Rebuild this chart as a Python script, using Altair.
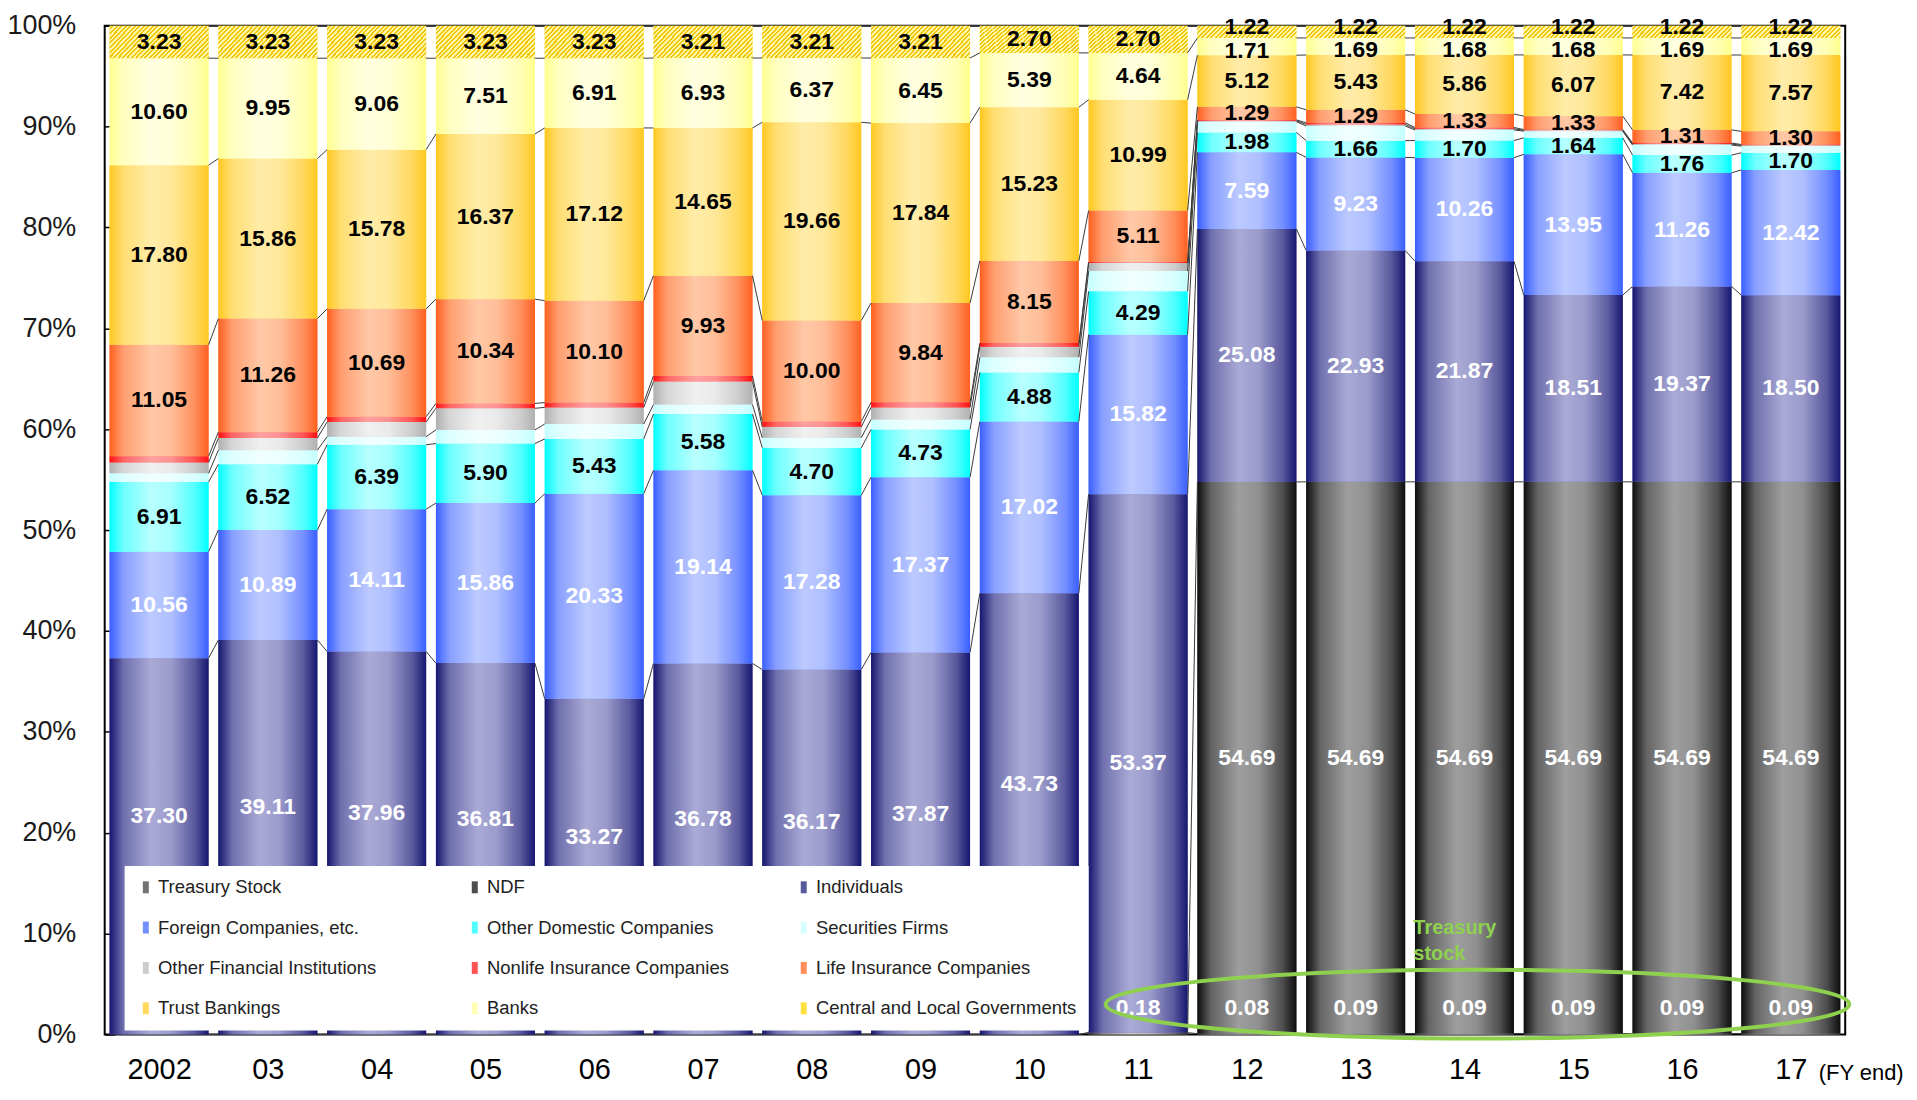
import altair as alt
import pandas as pd

# ---------------- data ----------------
years = ["2002", "03", "04", "05", "06", "07", "08", "09", "10", "11",
         "12", "13", "14", "15", "16", "17"]
categories = ["Treasury Stock", "NDF", "Individuals", "Foreign Companies, etc.",
              "Other Domestic Companies", "Securities Firms", "Other Financial Institutions",
              "Nonlife Insurance Companies", "Life Insurance Companies", "Trust Bankings",
              "Banks", "Central and Local Governments"]

treasury = [0, 0, 0, 0, 0, 0, 0, 0, 0, 0.18, 0.08, 0.09, 0.09, 0.09, 0.09, 0.09]
ndf = [0, 0, 0, 0, 0, 0, 0, 0, 0, 0, 54.69, 54.69, 54.69, 54.69, 54.69, 54.69]
individuals = [37.30, 39.11, 37.96, 36.81, 33.27, 36.78, 36.17, 37.87, 43.73, 53.37,
               25.08, 22.93, 21.87, 18.51, 19.37, 18.50]
foreign = [10.56, 10.89, 14.11, 15.86, 20.33, 19.14, 17.28, 17.37, 17.02, 15.82,
           7.59, 9.23, 10.26, 13.95, 11.26, 12.42]
other_domestic = [6.91, 6.52, 6.39, 5.90, 5.43, 5.58, 4.70, 4.73, 4.88, 4.29,
                  1.98, 1.66, 1.70, 1.64, 1.76, 1.70]
securities = [0.85, 1.40, 0.80, 1.36, 1.48, 0.94, 1.00, 1.00, 1.49, 2.01,
              1.06, 1.45, 1.05, 0.66, 0.99, 0.66]
other_financial = [1.08, 1.20, 1.46, 2.14, 1.65, 2.28, 1.08, 1.19, 1.06, 0.79,
                   0.09, 0.16, 0.12, 0.08, 0.10, 0.08]
nonlife = [0.62, 0.58, 0.52, 0.48, 0.48, 0.56, 0.53, 0.50, 0.35, 0.10,
           0.09, 0.16, 0.13, 0.08, 0.10, 0.08]
life = [11.05, 11.26, 10.69, 10.34, 10.10, 9.93, 10.00, 9.84, 8.15, 5.11,
        1.29, 1.29, 1.33, 1.33, 1.31, 1.30]
trust = [17.80, 15.86, 15.78, 16.37, 17.12, 14.65, 19.66, 17.84, 15.23, 10.99,
         5.12, 5.43, 5.86, 6.07, 7.42, 7.57]
banks = [10.60, 9.95, 9.06, 7.51, 6.91, 6.93, 6.37, 6.45, 5.39, 4.64,
         1.71, 1.69, 1.68, 1.68, 1.69, 1.69]
governments = [3.23, 3.23, 3.23, 3.23, 3.23, 3.21, 3.21, 3.21, 2.70, 2.70,
               1.22, 1.22, 1.22, 1.22, 1.22, 1.22]

y_ticks = [0, 10, 20, 30, 40, 50, 60, 70, 80, 90, 100]

series = [treasury, ndf, individuals, foreign, other_domestic, securities,
          other_financial, nonlife, life, trust, banks, governments]

rows = []
for ci, (cat, vals) in enumerate(zip(categories, series)):
    for yi, v in enumerate(vals):
        rows.append({"idx": yi, "cat": cat, "order": ci, "value": v})
df = pd.DataFrame(rows)

# annotation
annot_text = pd.DataFrame({"x": [11.53], "y": [10.6], "t": ["Treasury\nstock"]})
annot_ellipse = pd.DataFrame({"x": [12.12], "y": [3.0]})

# ---------------- styles ----------------
FONT = "Liberation Sans, Arial, sans-serif"
HALF = 0.455
W, H = 1746, 1012


def hex2rgb(h):
    h = h.lstrip("#")
    return [int(h[i:i + 2], 16) for i in (0, 2, 4)]


def mix(a, b, t):
    ra, rb = hex2rgb(a), hex2rgb(b)
    return "#" + "".join("%02x" % round(x + (y - x) * t) for x, y in zip(ra, rb))


def cyl(edge, center):
    pts = [(0, 0.0), (0.14, 0.6), (0.42, 1.0), (0.62, 0.9), (0.86, 0.45), (1, 0.0)]
    return alt.LinearGradient(
        gradient="linear", x1=0, y1=0, x2=1, y2=0,
        stops=[alt.GradientStop(offset=o, color=mix(edge, center, t)) for o, t in pts])


cyl_colors = {
    "Treasury Stock": ("#2b2b2b", "#cacaca"),
    "NDF": ("#0d0d0d", "#9e9e9e"),
    "Individuals": ("#161670", "#aaaad6"),
    "Foreign Companies, etc.": ("#3a5fff", "#bccaff"),
    "Other Domestic Companies": ("#00ffff", "#b8ffff"),
    "Securities Firms": ("#c4ffff", "#f0ffff"),
    "Other Financial Institutions": ("#b0b0b0", "#f0f0f0"),
    "Nonlife Insurance Companies": ("#ff1010", "#ffa0a0"),
    "Life Insurance Companies": ("#ff6020", "#ffc8a6"),
    "Trust Bankings": ("#ffc820", "#ffeca8"),
    "Banks": ("#ffff90", "#ffffe0"),
}
solid = [mix(*cyl_colors[c], 0.45) for c in categories[:-1]] + ["#ffe040"]


def hatch(ratio, periods, bg="#fff7a8", stripe="#f2c400"):
    k = (1 + ratio) / (1 + ratio * ratio)
    stops = []
    for j in range(periods):
        a = round(j / periods, 4)
        b = round((j + 0.55) / periods, 4)
        c = round((j + 1) / periods, 4)
        stops += [alt.GradientStop(offset=a, color=bg), alt.GradientStop(offset=b, color=bg),
                  alt.GradientStop(offset=b, color=stripe), alt.GradientStop(offset=c, color=stripe)]
    return alt.LinearGradient(gradient="linear", x1=0, y1=0, x2=round(k, 4),
                              y2=round(k * ratio, 4), stops=stops)


# ---------------- scales / axes ----------------
label_expr = "[" + ",".join("'%s'" % y for y in years) + "][datum.value]"
x_scale = alt.Scale(domain=[-0.5, len(years) - 0.5], nice=False, zero=False)
y_scale = alt.Scale(domain=[0, 100], nice=False)
x_axis = alt.Axis(values=list(range(len(years))), labelExpr=label_expr, ticks=False, tickSize=0,
                  domain=False, grid=False, labelFont=FONT, labelFontSize=29,
                  labelColor="black", labelPadding=21, labelAngle=0,
                  title="(FY end)", titleFont=FONT, titleFontSize=22, titleFontWeight="normal",
                  titleColor="black", titleX=W - 27, titleY=38, titleAlign="left",
                  titleBaseline="middle", titleAngle=0)
y_axis = alt.Axis(values=y_ticks, labelExpr="datum.value + '%'", domain=False, grid=False,
                  offset=-10, tickSize=10, tickColor="black", tickWidth=1.5,
                  labelPadding=29, labelFont=FONT, labelFontSize=27, labelColor="#1a1a1a",
                  title=None)


def X(f):
    return alt.X(f, type="quantitative", scale=x_scale, axis=x_axis)


def Y(f):
    return alt.Y(f, type="quantitative", scale=y_scale, axis=y_axis)


base = alt.Chart(df).transform_stack(
    stack="value", groupby=["idx"], sort=[alt.SortField("order", order="ascending")],
    as_=["y0", "y1"]
).transform_calculate(
    xl=f"datum.idx - {HALF}", xr=f"datum.idx + {HALF}", ymid="(datum.y0 + datum.y1) / 2"
)

legend = alt.Legend(
    title=None, orient="none", legendX=20, legendY=843, columns=3, direction="horizontal",
    gridAlign="all", fillColor="white", padding=12, symbolType="M-0.5,-1H0.5V1H-0.5Z",
    symbolSize=144, symbolStrokeWidth=0, symbolOpacity=1, labelFont=FONT, labelFontSize=18.5,
    labelColor="#222222", labelOffset=3, columnPadding=47, rowPadding=21.5, labelLimit=400,
)

layers = []
layers.append(base.mark_rect().encode(
    x=X("xl"), x2=alt.X2("xr"), y=Y("y0"), y2=alt.Y2("y1"),
    color=alt.Color("cat:N", scale=alt.Scale(domain=categories, range=solid), legend=legend)))

for cat in categories[:-1]:
    layers.append(base.transform_filter(alt.datum.cat == cat).mark_rect(
        fill=cyl(*cyl_colors[cat])).encode(x=X("xl"), x2=alt.X2("xr"), y=Y("y0"), y2=alt.Y2("y1")))

gov = categories[-1]
layers.append(base.transform_filter((alt.datum.cat == gov) & (alt.datum.idx <= 9)).mark_rect(
    fill=hatch(0.314, 29)).encode(x=X("xl"), x2=alt.X2("xr"), y=Y("y0"), y2=alt.Y2("y1")))
layers.append(base.transform_filter((alt.datum.cat == gov) & (alt.datum.idx >= 10)).mark_rect(
    fill=hatch(0.124, 25)).encode(x=X("xl"), x2=alt.X2("xr"), y=Y("y0"), y2=alt.Y2("y1")))

# series lines
layers.append(base.transform_window(
    window=[alt.WindowFieldDef(op="lead", field="y1", **{"as": "ny1"})],
    groupby=["cat"], sort=[alt.SortField("idx", order="ascending")]
).transform_filter("isValid(datum.ny1)").transform_calculate(
    nxl=f"datum.idx + 1 - {HALF}"
).mark_rule(color="#3a3a3a", strokeWidth=1).encode(
    x=X("xr"), x2=alt.X2("nxl"), y=Y("y1"), y2=alt.Y2("ny1")))

LBL = dict(font=FONT, fontSize=23, fontWeight="bold")
TXT = alt.Text("value:Q", format=".2f")


def labels(pred, color, dy=0):
    return (base.transform_filter(pred).transform_filter(alt.datum.value > 0)
            .mark_text(color=color, dy=dy, **LBL)
            .encode(x=X("idx"), y=Y("ymid"), text=TXT))


late = alt.datum.idx >= 10
early = alt.datum.idx <= 9
layers += [
    labels(alt.FieldOneOfPredicate(field="cat", oneOf=["Other Domestic Companies",
                                                       "Life Insurance Companies",
                                                       "Trust Bankings"]), "black"),
    labels((alt.datum.cat == "Banks") & early, "black"),
    labels((alt.datum.cat == "Banks") & late, "black", dy=4),
    labels((alt.datum.cat == gov) & early, "black"),
    labels((alt.datum.cat == gov) & late, "black", dy=-5),
    labels(alt.FieldOneOfPredicate(field="cat", oneOf=["NDF", "Foreign Companies, etc."]), "white"),
    # individuals: lifted above the legend box for the early years
    labels((alt.datum.cat == "Individuals") & (alt.datum.idx <= 8), "white", dy=-30),
    labels((alt.datum.cat == "Individuals") & (alt.datum.idx >= 9), "white"),
    labels(alt.datum.cat == "Treasury Stock", "white", dy=-26),
]

# annotation
layers.append(alt.Chart(annot_ellipse).mark_point(
    shape="M-1,0A1,0.0925,0,1,1,1,0A1,0.0925,0,1,1,-1,0Z", size=746 * 746, filled=False,
    stroke="#8fd14f", strokeWidth=4, opacity=1).encode(x=X("x"), y=Y("y")))
layers.append(alt.Chart(annot_text).mark_text(
    font=FONT, fontSize=20, fontWeight="bold", color="#8fd14f", align="left",
    baseline="middle", lineBreak="\n", lineHeight=27).encode(x=X("x"), y=Y("y"), text="t:N"))

chart = alt.layer(*layers).properties(
    width=W, height=H, background="white",
    padding={"left": 97, "top": 16, "right": 64, "bottom": 51},
    autosize=alt.AutoSizeParams(type="none"),
).configure_view(stroke="black", strokeWidth=2)

chart.save("out.html", embed_options={"renderer": "svg", "actions": False})
